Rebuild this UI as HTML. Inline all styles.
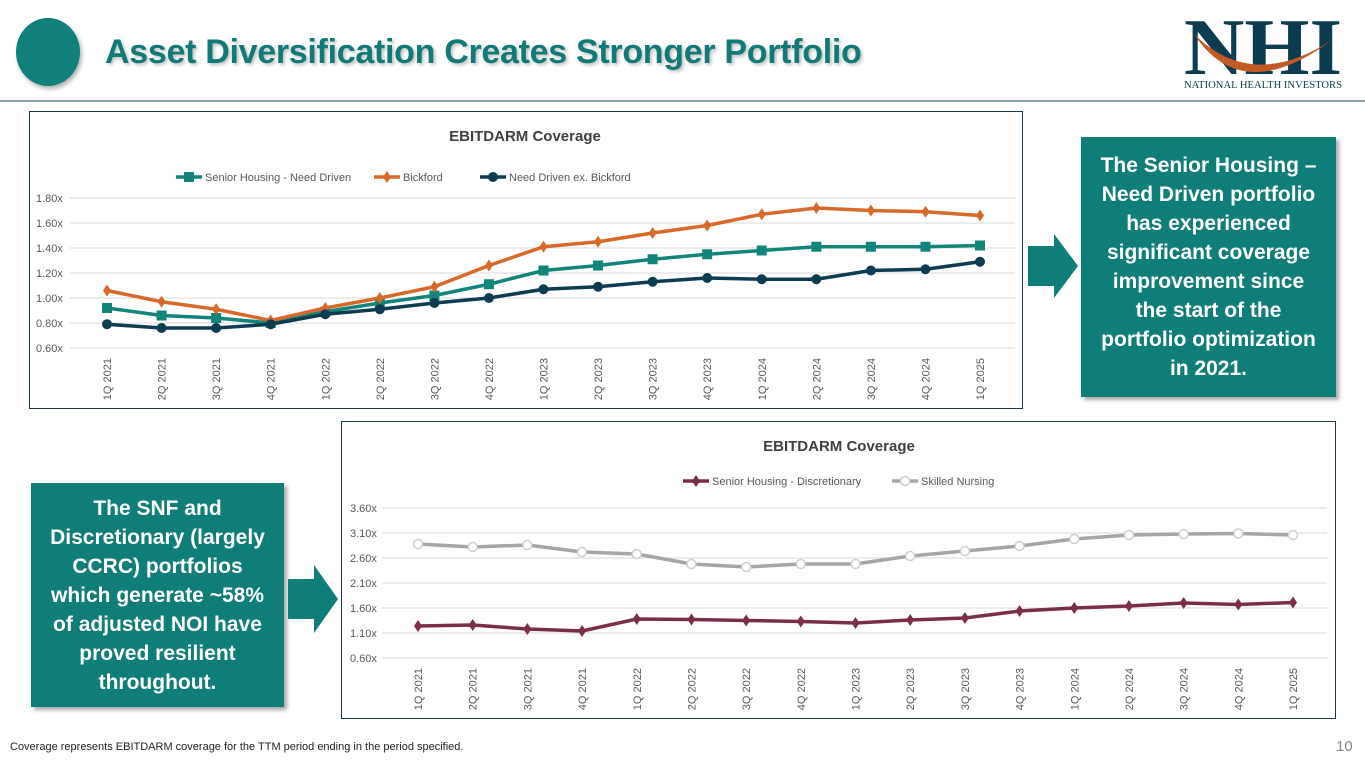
<!DOCTYPE html>
<html><head><meta charset="utf-8"><style>
*{margin:0;padding:0;box-sizing:border-box}
body{width:1365px;height:768px;background:#fff;position:relative;overflow:hidden;font-family:"Liberation Sans",sans-serif}
.abs{position:absolute}
.box{position:absolute;border:1px solid #1f3a4a;background:#fff}
.call{position:absolute;background:#0f7d78;color:#fff;font-weight:bold;font-size:21px;line-height:29px;text-align:center;display:flex;align-items:center;justify-content:center;box-shadow:3px 3px 4px rgba(0,0,0,.35)}
</style></head><body>
<div class="abs" style="left:16px;top:18px;width:64px;height:68px;border-radius:50%;background:#11807a;box-shadow:2px 3px 4px rgba(0,0,0,.3)"></div>
<div class="abs" style="left:105px;top:33px;font-size:34px;font-weight:bold;color:#117a76;text-shadow:2px 2px 3px rgba(0,0,0,.25);white-space:nowrap;letter-spacing:-0.3px">Asset Diversification Creates Stronger Portfolio</div>
<div class="abs" style="left:1182px;top:12px;width:170px;height:82px">
<svg width="170" height="82"><text x="2" y="62" font-family="Liberation Serif" font-size="80" font-weight="bold" fill="#0d3b4f" textLength="158" lengthAdjust="spacingAndGlyphs">NHI</text>
<path d="M12 22 Q60 95 150 28 Q70 80 12 22Z" fill="#c15a24"/>
<text x="2" y="76" font-family="Liberation Serif" font-size="10" fill="#0d3b4f" textLength="158" lengthAdjust="spacingAndGlyphs">NATIONAL HEALTH INVESTORS</text></svg></div>
<div class="abs" style="left:0;top:100px;width:1365px;height:2px;background:#8aa0a8"></div>

<div class="box" style="left:29px;top:111px;width:994px;height:298px"><svg id="c1" width="994" height="298"></svg></div>
<div class="box" style="left:341px;top:421px;width:995px;height:298px"><svg id="c2" width="995" height="298"></svg></div>

<div class="call" style="left:1081px;top:137px;width:255px;height:260px">The Senior Housing –<br>Need Driven portfolio<br>has experienced<br>significant coverage<br>improvement since<br>the start of the<br>portfolio optimization<br>in 2021.</div>
<div class="call" style="left:31px;top:483px;width:253px;height:224px">The SNF and<br>Discretionary (largely<br>CCRC) portfolios<br>which generate ~58%<br>of adjusted NOI have<br>proved resilient<br>throughout.</div>

<svg class="abs" style="left:1026px;top:232px" width="54" height="68"><polygon points="2,14 28,14 28,2 52,34 28,66 28,54 2,54" fill="#0f7d78"/></svg>
<svg class="abs" style="left:286px;top:563px" width="54" height="72"><polygon points="2,16 28,16 28,2 52,36 28,70 28,56 2,56" fill="#0f7d78"/></svg>

<div class="abs" style="left:10px;top:741px;font-size:11px;color:#222">Coverage represents EBITDARM coverage for the TTM period ending in the period specified.</div>
<div class="abs" style="left:1336px;top:738px;font-size:15px;color:#888">10</div>

<script>
const quarters=["1Q 2021","2Q 2021","3Q 2021","4Q 2021","1Q 2022","2Q 2022","3Q 2022","4Q 2022","1Q 2023","2Q 2023","3Q 2023","4Q 2023","1Q 2024","2Q 2024","3Q 2024","4Q 2024","1Q 2025"];
const seniorNeed=[0.92,0.86,0.84,0.80,0.89,0.96,1.02,1.11,1.22,1.26,1.31,1.35,1.38,1.41,1.41,1.41,1.42];
const bickford=[1.06,0.97,0.91,0.82,0.92,1.00,1.09,1.26,1.41,1.45,1.52,1.58,1.67,1.72,1.70,1.69,1.66];
const needExBickford=[0.79,0.76,0.76,0.79,0.87,0.91,0.96,1.00,1.07,1.09,1.13,1.16,1.15,1.15,1.22,1.23,1.29];
const ticks1=[0.6,0.8,1.0,1.2,1.4,1.6,1.8];
const discretionary=[1.24,1.26,1.18,1.14,1.38,1.37,1.35,1.33,1.30,1.36,1.40,1.54,1.60,1.64,1.70,1.67,1.71];
const skilledNursing=[2.88,2.82,2.86,2.72,2.68,2.48,2.42,2.48,2.48,2.64,2.74,2.84,2.98,3.06,3.08,3.09,3.06];
const ticks2=[0.6,1.1,1.6,2.1,2.6,3.1,3.6];
const NS="http://www.w3.org/2000/svg";
function mk(p,t,a,txt){const e=document.createElementNS(NS,t);for(const k in a)e.setAttribute(k,a[k]);if(txt!==undefined)e.textContent=txt;p.appendChild(e);return e;}
function marker(g,type,x,y,c){
 if(type==='sq')return mk(g,'rect',{x:x-5,y:y-5,width:10,height:10,fill:c});
 if(type==='dia')return mk(g,'polygon',{points:`${x},${y-6} ${x+4},${y} ${x},${y+6} ${x-4},${y}`,fill:c});
 if(type==='circ')return mk(g,'circle',{cx:x,cy:y,r:5,fill:c});
 if(type==='open')return mk(g,'circle',{cx:x,cy:y,r:4.5,fill:'#fff',stroke:'#d0d0d0','stroke-width':1.5});
}
function chart(id,o){
 const s=document.getElementById(id);
 const xs=i=>o.x0+i*(o.x1-o.x0)/(quarters.length-1);
 const ys=v=>o.yb-(v-o.tmin)/(o.tmax-o.tmin)*(o.yb-o.yt);
 mk(s,'text',{x:o.cx,y:o.titleY,'text-anchor':'middle','font-size':15,'font-weight':'bold',fill:'#404040'},'EBITDARM Coverage');
 o.ticks.forEach(t=>{const y=ys(t);
  const l=mk(s,'line',{x1:o.gx0,x2:o.gx1,y1:y,y2:y,stroke:'#d9d9d9'});
  
  
  const tx=mk(s,'text',{x:o.lx,y:y+4,'font-size':11,fill:'#595959'},t.toFixed(2)+'x');
  
  });
 quarters.forEach((q,i)=>{const x=xs(i);
  const tx=mk(s,'text',{transform:`translate(${x+4},${o.yb+10}) rotate(-90)`,'text-anchor':'end','font-size':11,fill:'#595959'},q);
  
  });
 o.series.forEach(se=>{
  const g=mk(s,'g',{});
  
  
  mk(g,'polyline',{points:se.data.map((v,i)=>xs(i)+','+ys(v)).join(' '),fill:'none',stroke:se.c,'stroke-width':3.5,'stroke-linejoin':'round'});
  se.data.forEach((v,i)=>{const m=marker(g,se.m,xs(i),ys(v),se.c);
   
   });
  const lg=mk(s,'g',{});
  
  
  mk(lg,'line',{x1:se.lx,x2:se.lx+26,y1:o.legY,y2:o.legY,stroke:se.c,'stroke-width':3.5});
  marker(lg,se.m,se.lx+13,o.legY,se.c);
  mk(lg,'text',{x:se.lx+29,y:o.legY+4,'font-size':11,fill:'#595959'},se.name);
 });
}
chart('c1',{x0:77,x1:950,yt:86,yb:236,tmin:0.6,tmax:1.8,ticks:ticks1,gx0:40,gx1:985,lx:6,cx:495,titleY:29,legY:65,
 series:[{key:'senior-need-driven',name:'Senior Housing - Need Driven',data:seniorNeed,c:'#138479',m:'sq',lx:146},
 {key:'bickford',name:'Bickford',data:bickford,c:'#d8692a',m:'dia',lx:344},
 {key:'need-ex-bickford',name:'Need Driven ex. Bickford',data:needExBickford,c:'#0d3b4f',m:'circ',lx:450}]});
chart('c2',{x0:76,x1:951,yt:86,yb:236,tmin:0.6,tmax:3.6,ticks:ticks2,gx0:40,gx1:985,lx:8,cx:497,titleY:29,legY:59,
 series:[{key:'discretionary',name:'Senior Housing - Discretionary',data:discretionary,c:'#7b2f45',m:'dia',lx:341},
 {key:'skilled-nursing',name:'Skilled Nursing',data:skilledNursing,c:'#a6a6a6',m:'open',lx:550}]});
</script>
</body></html>
